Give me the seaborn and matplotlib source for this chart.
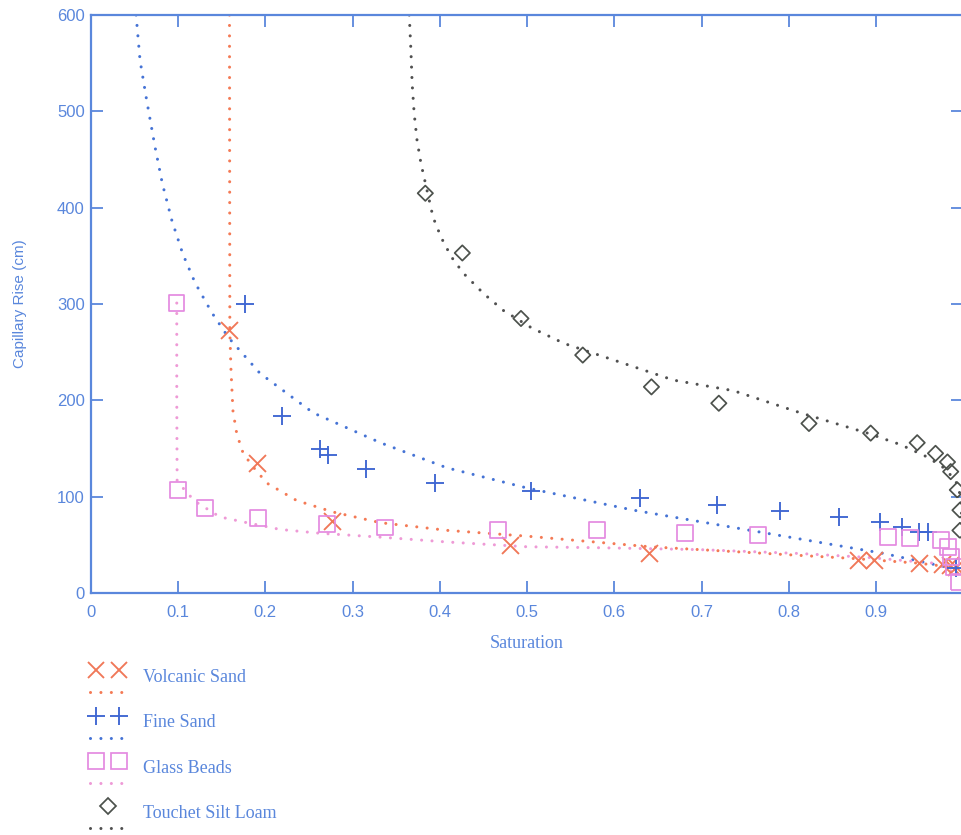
import numpy as np
import matplotlib
matplotlib.use("Agg")
import matplotlib.pyplot as plt
import seaborn as sns
from matplotlib.lines import Line2D
from matplotlib.legend_handler import HandlerBase

# ---------------- data ----------------
volcanic_sat = [0.159, 0.190, 0.277, 0.481, 0.640, 0.879, 0.897, 0.949, 0.975, 0.985, 0.991]
volcanic_rise = [273, 135, 75, 50, 42, 34, 34, 31, 30, 29, 27]
volcanic_fit_sat = [0.159, 0.1594, 0.1606, 0.163, 0.1674, 0.1747, 0.186, 0.202, 0.236, 0.278,
                    0.332, 0.409, 0.500, 0.641, 0.775, 0.871, 0.948, 0.995]
volcanic_fit_rise = [600, 273, 234, 189, 165, 145, 131, 114, 96, 84, 73, 65, 59, 48, 41, 36, 31, 26]

fine_sat = [0.177, 0.219, 0.263, 0.272, 0.315, 0.395, 0.505, 0.629, 0.718, 0.790, 0.857,
            0.904, 0.930, 0.949, 0.959, 0.991]
fine_rise = [300, 184, 149, 143, 129, 114, 106, 99, 91, 85, 79, 74, 69, 63, 63, 26]
fine_fit_sat = [0.052, 0.0565, 0.0642, 0.0737, 0.0821, 0.0929, 0.1055, 0.1196, 0.1388, 0.158,
                0.194, 0.255, 0.332, 0.408, 0.500, 0.622, 0.775, 0.909, 0.985]
fine_fit_rise = [600, 553, 511, 463, 425, 387, 352, 322, 291, 265, 228, 187, 156, 130, 109, 86, 62, 41, 26]

glass_sat = [0.0983, 0.0998, 0.131, 0.1915, 0.2706, 0.3375, 0.4667, 0.580, 0.6815, 0.765,
             0.914, 0.939, 0.974, 0.982, 0.986, 0.989, 0.995]
glass_rise = [301, 107, 88, 77.5, 71.6, 68, 65, 65, 62, 60, 58, 57, 55, 48, 37, 27, 11]
glass_fit_sat = [0.0986, 0.0986, 0.099, 0.110, 0.1216, 0.148, 0.179, 0.217, 0.263, 0.332,
                 0.408, 0.500, 0.584, 0.699, 0.813, 0.890, 0.966, 0.995]
glass_fit_rise = [301, 200, 117, 104, 94, 79, 73, 66, 62, 58, 53, 48, 47, 45, 41, 37, 31, 19]

touchet_sat = [0.3834, 0.4258, 0.493, 0.5638, 0.6425, 0.7197, 0.823, 0.8937, 0.947, 0.968,
               0.9817, 0.9854, 0.993, 0.996, 0.996]
touchet_rise = [415, 353, 285, 247, 214, 197, 176, 166, 156, 145, 136, 126, 107, 86, 65]
touchet_fit_sat = [0.365, 0.3669, 0.3683, 0.3706, 0.3739, 0.3784, 0.3831, 0.3923, 0.4016, 0.4132,
                   0.427, 0.450, 0.4733, 0.5056, 0.5427, 0.5889, 0.635, 0.6678, 0.7366, 0.8134,
                   0.890, 0.928, 0.959, 0.9774, 0.991, 0.997, 0.999]
touchet_fit_rise = [600, 563, 529, 498, 470, 446, 427, 390, 369, 349, 332, 311, 293, 275, 259,
                    245, 231, 221, 210, 187, 166, 154, 141, 130, 117, 100, 55]

labels = ["Volcanic Sand", "Fine Sand", "Glass Beads", "Touchet Silt Loam"]
x_ticks = [0, 0.1, 0.2, 0.3, 0.4, 0.5, 0.6, 0.7, 0.8, 0.9, 1.0]
x_tick_labels = ["0", "0.1", "0.2", "0.3", "0.4", "0.5", "0.6", "0.7", "0.8", "0.9", ""]
y_ticks = [0, 100, 200, 300, 400, 500, 600]

# ---------------- style ----------------
sns.set_theme(style="ticks")
plt.rcParams["font.family"] = ["Liberation Sans", "DejaVu Sans"]

AX = "#5A87DC"
series = [
    dict(sat=volcanic_sat, rise=volcanic_rise, fs=volcanic_fit_sat, fr=volcanic_fit_rise,
         marker="x", mcol="#F07858", lcol="#F47A55", size=12.2, filled=False),
    dict(sat=fine_sat, rise=fine_rise, fs=fine_fit_sat, fr=fine_fit_rise,
         marker="+", mcol="#3E66D2", lcol="#4573D5", size=13, filled=False),
    dict(sat=glass_sat, rise=glass_rise, fs=glass_fit_sat, fr=glass_fit_rise,
         marker="s", mcol="#E48AE0", lcol="#EE9AD6", size=11.5, filled=True),
    dict(sat=touchet_sat, rise=touchet_rise, fs=touchet_fit_sat, fr=touchet_fit_rise,
         marker="D", mcol="#4C514C", lcol="#505050", size=7.8, filled=True),
]
DOT = (0, (0.01, 3.4))
LW = 2.2

fig = plt.figure(figsize=(9.62, 8.35), dpi=100)
ax = fig.add_axes([0.0943, 0.2898, 1.0015 - 0.0943, 0.982 - 0.2898])

for s in series:
    sns.lineplot(x=s["fs"], y=s["fr"], ax=ax, sort=False, estimator=None,
                 color=s["lcol"], linestyle=DOT, linewidth=LW,
                 dash_capstyle="round", zorder=2)
    if s["filled"]:
        sns.scatterplot(x=s["sat"], y=s["rise"], ax=ax, marker=s["marker"],
                        s=s["size"] ** 2, facecolor="none", edgecolor=s["mcol"],
                        linewidth=1.25, zorder=3)
    else:
        sns.scatterplot(x=s["sat"], y=s["rise"], ax=ax, marker=s["marker"],
                        s=s["size"] ** 2, color=s["mcol"], linewidth=1.35, zorder=3)

ax.set_xlim(0, 1)
ax.set_ylim(0, 600)
ax.set_xticks(x_ticks)
ax.set_xticklabels(x_tick_labels)
ax.set_yticks(y_ticks)
ax.set_yticklabels([str(v) for v in y_ticks])
ax.tick_params(direction="in", length=8.6, width=1.3, color=AX, labelcolor=AX,
               labelsize=12, top=True, right=True)
ax.tick_params(axis="x", pad=8.7)
ax.tick_params(axis="y", pad=4.3)
for sp in ax.spines.values():
    sp.set_color(AX)
    sp.set_linewidth(1.6)

ax.set_xlabel("Saturation", family=["Liberation Serif", "DejaVu Serif"], fontsize=13, color=AX)
ax.set_ylabel("Capillary Rise (cm)", fontsize=11, color=AX)
ax.xaxis.set_label_coords(0.5, -0.0727)
ax.yaxis.set_label_coords(-0.0731, 0.5)


# ---------------- legend: markers above, dotted line below ----------------
class StackedHandler(HandlerBase):
    def create_artists(self, legend, orig_handle, xdescent, ydescent, width, height,
                       fontsize, trans):
        marker, mcol, lcol, size, filled = orig_handle
        x0 = -xdescent
        if marker == "D":
            xs = [x0 + width * 0.57]
        else:
            xs = [x0 + width * 0.23, x0 + width * 0.89]
        m = Line2D(xs, [8.5] * len(xs), linestyle="none", marker=marker, markersize=size,
                   markeredgecolor=mcol, markerfacecolor="none",
                   markeredgewidth=1.25 if filled else 1.35)
        l = Line2D([x0 + 1.5, x0 + width], [-7.5, -7.5], color=lcol, linewidth=LW,
                   linestyle=DOT, dash_capstyle="round")
        m.set_transform(trans)
        l.set_transform(trans)
        return [m, l]


handles = [(s["marker"], s["mcol"], s["lcol"], s["size"], s["filled"]) for s in series]
fig.legend(handles, labels, handler_map={tuple: StackedHandler()},
           loc="upper left", bbox_to_anchor=(0.0915, 0.1988), borderaxespad=0,
           borderpad=0, frameon=False, handlelength=1.95, handletextpad=1.1,
           labelspacing=1.57, labelcolor=AX,
           prop=dict(family=["Liberation Serif", "DejaVu Serif"], size=13))

fig.savefig("out.png", dpi=100)
